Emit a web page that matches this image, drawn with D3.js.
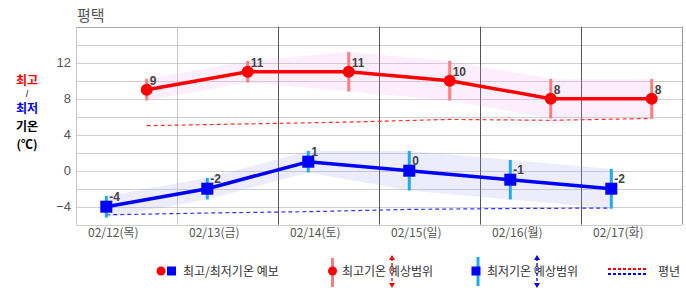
<!DOCTYPE html>
<html>
<head>
<meta charset="utf-8">
<script src="https://cdn.jsdelivr.net/npm/d3@7"></script>
<style>
  body { margin: 0; background: #fff; }
  svg { display: block; font-family: 'Liberation Sans', 'Noto Sans CJK KR', sans-serif; }
</style>
</head>
<body>
<div id="app"></div>
<script>
const dates = ['02/12(목)', '02/13(금)', '02/14(토)', '02/15(일)', '02/16(월)', '02/17(화)'];
const highs = [9, 11, 11, 10, 8, 8];
const highMax = [10.2, 12.2, 13.2, 12.2, 10.2, 10.2];
const highMin = [7.8, 9.8, 8.8, 7.8, 5.8, 5.8];
const lows = [-4, -2, 1, 0, -1, -2];
const lowMax = [-2.8, -0.8, 2.2, 2.2, 1.2, 0.2];
const lowMin = [-5.2, -3.2, -0.2, -2.2, -3.2, -4.2];
const normHigh = [5.0, 5.2, 5.4, 5.7, 5.6, 5.8];
const normLow = [-4.9, -4.7, -4.55, -4.3, -4.2, -4.15];
const yTicks = [-4, 0, 4, 8, 12];

(() => {
  const W = 686, H = 295;
  const left = 76, right = 682, top = 26.7, bottom = 224.7;
  const korFont = "'Noto Sans CJK KR', sans-serif";

  const svg = d3.select('#app').append('svg')
    .attr('width', W)
    .attr('height', H);

  const x = d3.scaleBand().domain(dates).range([left, right]).padding(0);
  const y = d3.scaleLinear().domain([-6, 16]).range([bottom, top]);
  const bw = x.bandwidth();
  // low series sits left of band centre, high series right of it
  const xLow = d => x(d) + bw * 0.3;
  const xHigh = d => x(d) + bw * 0.7;

  // horizontal grid every 2 degrees
  svg.append('g')
    .selectAll('line')
    .data(d3.range(-6, 17, 2))
    .enter()
    .append('line')
    .attr('x1', left).attr('x2', right)
    .attr('y1', d => Math.round(y(d)) + 0.5)
    .attr('y2', d => Math.round(y(d)) + 0.5)
    .style('stroke', d => (d === 16 ? '#aaa' : '#cfcfcf'))
    .style('stroke-width', 1);

  // vertical grid at band edges
  const edges = dates.map(d => x(d)).concat([right]);
  svg.append('g')
    .selectAll('line')
    .data(edges)
    .enter()
    .append('line')
    .attr('x1', d => Math.round(d) + 0.5)
    .attr('x2', d => Math.round(d) + 0.5)
    .attr('y1', top).attr('y2', bottom)
    .style('stroke', (d, i) => (i < 2 ? '#c8c8c8' : (i === edges.length - 1 ? '#999' : '#555')))
    .style('stroke-width', 1);

  // y tick labels
  svg.append('g')
    .selectAll('text')
    .data(yTicks)
    .enter()
    .append('text')
    .text(d => d3.format('d')(d))
    .attr('x', 71)
    .attr('y', d => y(d) + 4.5)
    .attr('font-size', 13)
    .style('fill', '#555')
    .style('text-anchor', 'end');

  // x tick labels
  svg.append('g')
    .selectAll('text')
    .data(dates)
    .enter()
    .append('text')
    .text(d => d)
    .attr('x', d => xLow(d) + 7)
    .attr('y', 237)
    .attr('font-family', korFont)
    .attr('font-size', 12)
    .style('fill', '#555')
    .style('text-anchor', 'middle');

  // forecast range bands
  const bandHigh = d3.area()
    .x((d, i) => xHigh(dates[i]))
    .y0((d, i) => y(highMin[i]))
    .y1((d, i) => y(highMax[i]));
  const bandLow = d3.area()
    .x((d, i) => xLow(dates[i]))
    .y0((d, i) => y(lowMin[i]))
    .y1((d, i) => y(lowMax[i]));

  svg.append('path')
    .attr('d', bandHigh(highs))
    .style('fill', 'rgba(240, 160, 240, 0.18)');
  svg.append('path')
    .attr('d', bandLow(lows))
    .style('fill', 'rgba(160, 160, 240, 0.2)');

  // normal (평년) lines
  const normHighLine = d3.line().x((d, i) => xHigh(dates[i])).y(d => y(d));
  const normLowLine = d3.line().x((d, i) => xLow(dates[i])).y(d => y(d));
  svg.append('path')
    .attr('d', normHighLine(normHigh))
    .style('fill', 'none')
    .style('stroke', '#ff3030')
    .style('stroke-width', 1.2)
    .style('stroke-dasharray', '4,3');
  svg.append('path')
    .attr('d', normLowLine(normLow))
    .style('fill', 'none')
    .style('stroke', '#3030ff')
    .style('stroke-width', 1.2)
    .style('stroke-dasharray', '4,3');

  // range bars
  svg.append('g')
    .selectAll('line')
    .data(dates)
    .enter()
    .append('line')
    .attr('x1', xHigh).attr('x2', xHigh)
    .attr('y1', (d, i) => y(highMax[i]))
    .attr('y2', (d, i) => y(highMin[i]))
    .style('stroke', '#ff7f7f')
    .style('stroke-width', 3);
  svg.append('g')
    .selectAll('line')
    .data(dates)
    .enter()
    .append('line')
    .attr('x1', xLow).attr('x2', xLow)
    .attr('y1', (d, i) => y(lowMax[i]))
    .attr('y2', (d, i) => y(lowMin[i]))
    .style('stroke', '#22aaee')
    .style('stroke-width', 3);

  // main forecast lines
  svg.append('path')
    .attr('d', normHighLine(highs))
    .style('fill', 'none')
    .style('stroke', '#ff0000')
    .style('stroke-width', 3.5);
  svg.append('path')
    .attr('d', normLowLine(lows))
    .style('fill', 'none')
    .style('stroke', '#0000ff')
    .style('stroke-width', 3.5);

  // markers
  svg.append('g')
    .selectAll('circle')
    .data(highs)
    .enter()
    .append('circle')
    .attr('cx', (d, i) => xHigh(dates[i]))
    .attr('cy', d => y(d))
    .attr('r', 6)
    .style('fill', '#ff0000');
  svg.append('g')
    .selectAll('rect')
    .data(lows)
    .enter()
    .append('rect')
    .attr('x', (d, i) => xLow(dates[i]) - 6)
    .attr('y', d => y(d) - 6)
    .attr('width', 12)
    .attr('height', 12)
    .style('fill', '#0000ff');

  // value labels
  svg.append('g')
    .selectAll('text')
    .data(highs)
    .enter()
    .append('text')
    .text(d => d)
    .attr('x', (d, i) => xHigh(dates[i]) + 3)
    .attr('y', d => y(d) - 5)
    .attr('font-size', 12)
    .attr('font-weight', 'bold')
    .style('fill', '#444');
  svg.append('g')
    .selectAll('text')
    .data(lows)
    .enter()
    .append('text')
    .text(d => d)
    .attr('x', (d, i) => xLow(dates[i]) + 3)
    .attr('y', d => y(d) - 6)
    .attr('font-size', 12)
    .attr('font-weight', 'bold')
    .style('fill', '#444');

  // title
  svg.append('text')
    .text('평택')
    .attr('x', 77)
    .attr('y', 21)
    .attr('font-family', korFont)
    .attr('font-size', 15)
    .style('fill', '#555');

  // left axis caption
  const cap = [
    { t: '최고', c: '#ff0000', y: 85, s: 12, f: korFont, w: 'bold' },
    { t: '/', c: '#000', y: 97, s: 9, f: 'Liberation Sans', w: 'normal' },
    { t: '최저', c: '#0000ff', y: 113, s: 12, f: korFont, w: 'bold' },
    { t: '기온', c: '#000', y: 131, s: 12, f: korFont, w: 'bold' },
    { t: '(℃)', c: '#000', y: 149, s: 12, f: korFont, w: 'bold' }
  ];
  svg.append('g')
    .selectAll('text')
    .data(cap)
    .enter()
    .append('text')
    .text(d => d.t)
    .attr('x', 27)
    .attr('y', d => d.y)
    .attr('font-family', d => d.f)
    .attr('font-size', d => d.s)
    .attr('font-weight', d => d.w)
    .style('fill', d => d.c)
    .style('text-anchor', 'middle');

  // legend
  const lg = svg.append('g').attr('font-family', korFont).attr('font-size', 12).style('fill', '#333');
  const ly = 271;

  lg.append('circle').attr('cx', 161).attr('cy', ly).attr('r', 4.5).style('fill', '#ff0000');
  lg.append('rect').attr('x', 167).attr('y', ly - 4.5).attr('width', 9).attr('height', 9).style('fill', '#0000ff');
  lg.append('text').text('최고/최저기온 예보').attr('x', 183).attr('y', ly + 4.5);

  lg.append('line').attr('x1', 332.5).attr('x2', 332.5).attr('y1', 258).attr('y2', 287)
    .style('stroke', '#ff7f7f').style('stroke-width', 3);
  lg.append('circle').attr('cx', 332.5).attr('cy', ly).attr('r', 4.5).style('fill', '#ff0000');
  lg.append('text').text('최고기온 예상범위').attr('x', 342).attr('y', ly + 4.5);

  const arrow = (ax, color) => {
    lg.append('line').attr('x1', ax).attr('x2', ax).attr('y1', 258).attr('y2', 285)
      .style('stroke', color).style('stroke-width', 1.3).style('stroke-dasharray', '3,2');
    lg.append('path').attr('d', `M${ax - 3},${260} L${ax},${255} L${ax + 3},${260} Z`).style('fill', color);
    lg.append('path').attr('d', `M${ax - 3},${283} L${ax},${288} L${ax + 3},${283} Z`).style('fill', color);
  };
  arrow(392, '#ff0000');

  lg.append('line').attr('x1', 478).attr('x2', 478).attr('y1', 257).attr('y2', 286)
    .style('stroke', '#22aaee').style('stroke-width', 3);
  lg.append('rect').attr('x', 471.5).attr('y', ly - 4.5).attr('width', 9).attr('height', 9).style('fill', '#0000ff');
  lg.append('text').text('최저기온 예상범위').attr('x', 487).attr('y', ly + 4.5);
  arrow(537, '#0000ff');

  lg.append('line').attr('x1', 608).attr('x2', 647).attr('y1', 269).attr('y2', 269)
    .style('stroke', '#ff0000').style('stroke-width', 2).style('stroke-dasharray', '3,2');
  lg.append('line').attr('x1', 608).attr('x2', 647).attr('y1', 274).attr('y2', 274)
    .style('stroke', '#0000ff').style('stroke-width', 2).style('stroke-dasharray', '3,2');
  lg.append('text').text('평년').attr('x', 658).attr('y', ly + 4.5);
})();
</script>
</body>
</html>
